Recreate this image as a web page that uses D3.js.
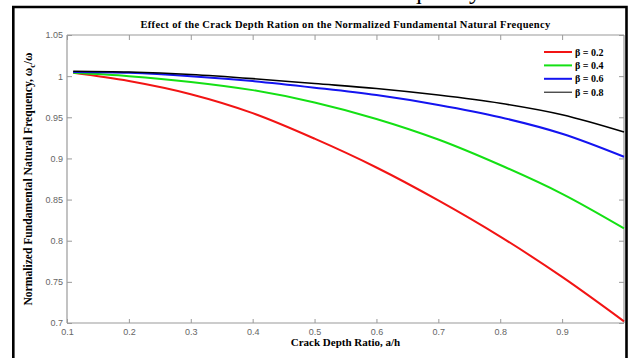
<!DOCTYPE html>
<html>
<head>
<meta charset="utf-8">
<script src="https://cdn.jsdelivr.net/npm/d3@7"></script>
<style>
  html, body { margin: 0; padding: 0; background: #fff; }
</style>
</head>
<body>
<div id="chart"></div>
<script>
    // crack depth ratio a/h
    var ratios = [0.11, 0.2, 0.3, 0.4, 0.5, 0.6, 0.7, 0.8, 0.9, 1.0]
    // normalized frequency per beta
    var beta02 = [1.004, 0.994, 0.978, 0.955, 0.924, 0.889, 0.849, 0.805, 0.756, 0.702]
    var beta04 = [1.004, 1.000, 0.993, 0.983, 0.968, 0.948, 0.923, 0.892, 0.857, 0.815]
    var beta06 = [1.005, 1.004, 1.000, 0.994, 0.986, 0.977, 0.965, 0.950, 0.930, 0.902]
    var beta08 = [1.006, 1.005, 1.002, 0.997, 0.991, 0.985, 0.977, 0.967, 0.953, 0.932]
    var seriesNames = ["\u03b2 = 0.2", "\u03b2 = 0.4", "\u03b2 = 0.6", "\u03b2 = 0.8"]
    var xTicks = [0.1, 0.2, 0.3, 0.4, 0.5, 0.6, 0.7, 0.8, 0.9]
    var yTicks = [0.7, 0.75, 0.8, 0.85, 0.9, 0.95, 1, 1.05]

    var colors = ["#f21414", "#14e014", "#1414f0", "#000000"]
    var widths = [2, 2, 2, 1.6]

    var width = 630, height = 358
    var margin = {left: 67, right: 5, top: 35, bottom: 35}

    var svg = d3.select("#chart").append("svg")
        .attr("width", width)
        .attr("height", height)
        .style("display", "block")

    var serif = "'Liberation Serif', 'Times New Roman', serif"
    var sans = "'Liberation Sans', Arial, sans-serif"

    // leftover caption cut off at the top of the screenshot (as in the source image)
    svg.append("text")
        .attr("x", 376)
        .attr("y", -1)
        .style("font", "25px " + serif)
        .text("Frequency")

    // frame of the screenshot
    svg.append("path")
        .attr("d", "M13.3," + height + "V7H626.5V" + height)
        .attr("fill", "none")
        .attr("stroke", "#000")
        .attr("stroke-width", 2.6)

    var x = d3.scaleLinear()
        .domain([0.1, 1.0])
        .range([margin.left, width - margin.right - 1])
    var y = d3.scaleLinear()
        .domain([0.7, 1.05])
        .range([height - margin.bottom, margin.top])

    var fmt = d => String(+d.toFixed(2))
    var axisColor = "#9a9a9a"

    // box with inward ticks, matlab style
    var gx = svg.append("g")
        .attr("transform", `translate(0,${y(0.7)})`)
        .call(d3.axisBottom(x).tickValues(xTicks).tickSize(-4).tickPadding(6).tickFormat(fmt))
    var gxTop = svg.append("g")
        .attr("transform", `translate(0,${y(1.05)})`)
        .call(d3.axisTop(x).tickValues(xTicks).tickSize(-5).tickFormat(""))
    var gy = svg.append("g")
        .attr("transform", `translate(${x(0.1)},0)`)
        .call(d3.axisLeft(y).tickValues(yTicks).tickSize(-5).tickPadding(4).tickFormat(fmt))
    var gyRight = svg.append("g")
        .attr("transform", `translate(${x(1.0)},0)`)
        .call(d3.axisRight(y).tickValues(yTicks).tickSize(-5).tickFormat(""))

    ;[gx, gxTop, gy, gyRight].forEach(g => {
        g.selectAll(".domain").attr("stroke", axisColor).attr("stroke-width", 1.2)
        g.selectAll(".tick line").attr("stroke", axisColor)
        g.selectAll("text")
            .attr("fill", "#666")
            .style("font", "9px " + sans)
    })
    gx.selectAll(".domain").attr("d", `M${x(0.1)},0H${x(1.0)}`)
    gxTop.selectAll(".domain").attr("d", `M${x(0.1)},0H${x(1.0)}`)
    gy.selectAll(".domain").attr("d", `M0,${y(0.7)}V${y(1.05)}`)
    gyRight.selectAll(".domain").attr("d", `M0,${y(0.7)}V${y(1.05)}`)

    var series = [beta02, beta04, beta06, beta08].map((vals, i) => ({
        name: seriesNames[i],
        values: vals.map((v, j) => ({x: ratios[j], y: v}))
    }))

    var line = d3.line()
        .x(d => x(d.x))
        .y(d => y(d.y))
        .curve(d3.curveCatmullRom.alpha(0.5))

    svg.append("g")
        .selectAll("path")
        .data(series)
        .join("path")
        .attr("fill", "none")
        .attr("stroke", (d, i) => colors[i])
        .attr("stroke-width", (d, i) => widths[i])
        .attr("stroke-linejoin", "round")
        .attr("d", d => line(d.values))

    // title
    svg.append("text")
        .attr("x", (x(0.1) + x(1.0)) / 2)
        .attr("y", 28)
        .attr("text-anchor", "middle")
        .style("font", "bold 10.5px " + serif)
        .style("letter-spacing", "0.32px")
        .text("Effect of the Crack Depth Ration on the Normalized Fundamental Natural Frequency")

    // x label
    svg.append("text")
        .attr("x", (x(0.1) + x(1.0)) / 2)
        .attr("y", 346)
        .attr("text-anchor", "middle")
        .style("font", "bold 11px " + serif)
        .text("Crack Depth Ratio, a/h")

    // y label
    var yl = svg.append("text")
        .attr("transform", `translate(32,${y(0.875)}) rotate(-90)`)
        .attr("text-anchor", "middle")
        .style("font", "bold 11.6px " + serif)
    yl.append("tspan").text("Normalized Fundamental Natural Frequency, \u03c9")
    yl.append("tspan").attr("dy", 3).style("font-size", "8px").text("c")
    yl.append("tspan").attr("dy", -3).text("/\u03c9")

    // legend
    var legend = svg.append("g")
        .selectAll("g")
        .data(series)
        .join("g")
        .attr("transform", (d, i) => `translate(544,${52 + i * 13.4})`)
    legend.append("line")
        .attr("x1", 0).attr("x2", 28)
        .attr("stroke", (d, i) => colors[i])
        .attr("stroke-width", (d, i) => i == 3 ? 1 : 2)
    legend.append("text")
        .attr("x", 31)
        .attr("dy", "0.35em")
        .style("font", "bold 10px " + serif)
        .text(d => d.name)
</script>
</body>
</html>
